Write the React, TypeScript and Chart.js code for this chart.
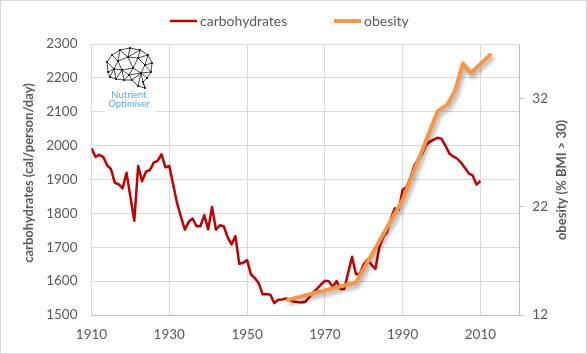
import React, { useEffect, useRef } from "react";
import { Chart, registerables } from "chart.js";

Chart.register(...registerables);

// ---- data ----
const carbStartYear = 1910;
const carbValues = [
  1992, 1967, 1973, 1967, 1942, 1931, 1890, 1886, 1874, 1920,
  1849, 1778, 1940, 1895, 1923, 1928, 1950, 1955, 1974, 1936,
  1940, 1885, 1830, 1790, 1752, 1775, 1785, 1762, 1762, 1795,
  1753, 1819, 1752, 1765, 1762, 1730, 1708, 1733, 1651, 1654,
  1662, 1620, 1609, 1594, 1561, 1562, 1560, 1535, 1545, 1546,
  1549, 1544, 1540, 1538, 1537, 1539, 1553, 1566, 1578, 1590,
  1601, 1600, 1583, 1600, 1577, 1577, 1625, 1672, 1620, 1622,
  1650, 1664, 1648, 1636, 1700, 1730, 1745, 1785, 1815, 1810,
  1870, 1878, 1905, 1940, 1960, 1975, 2002, 2012, 2018, 2023,
  2020, 2000, 1977, 1968, 1962, 1950, 1935, 1918, 1912, 1885,
  1896,
];
const obesityYears = [1960.5, 1978, 1990, 1999, 2001.5, 2003.5, 2005.5, 2007.5, 2012.5];
const obesityValues = [13.4, 15.0, 22.6, 30.8, 31.4, 32.7, 35.2, 34.3, 36.0];

const xTicks = [1910, 1930, 1950, 1970, 1990, 2010];
const leftTicks = [1500, 1600, 1700, 1800, 1900, 2000, 2100, 2200, 2300];
const rightTicks = [12, 22, 32];

const seriesNames = ["carbohydrates", "obesity"];
const leftTitle = "carbohydrates (cal/person/day)";
const rightTitle = "obesity (% BMI > 30)";
const logoText = ["Nutrient", "Optimiser"];

const RED = "#C00000";
const ORANGE = "#F79646";
const TEXT = "#595959";
const FONT = "Lato, 'Open Sans', sans-serif";

// brain logo geometry (decoration)
const brainPts: Record<string, [number, number]> = {
  A: [3, 25], B: [2, 15], C: [7, 8], D: [15, 3], E: [25, 1], F: [35, 3], G: [43, 8],
  H: [47, 16], I: [46, 25], J: [42, 31], K: [38, 35], L: [40, 41], M: [33, 39],
  N: [27, 33], O: [19, 33], P: [11, 32], Q: [5, 30],
  R: [13, 14], S: [23, 10], T: [33, 11], U: [40, 18], V: [17, 23], W: [28, 21],
  X: [36, 26], Y: [9, 22], Z: [24, 28],
};
const brainOutline = "ABCDEFGHIJKLMNOPQ".split("");
const brainEdges = [
  "CR", "DR", "DS", "ES", "FS", "FT", "GT", "GU", "HU", "IU", "IX", "JX", "KX", "MX",
  "NZ", "NX", "OZ", "PV", "QY", "AY", "BY", "YR", "YV", "RS", "RV", "SW", "ST", "TW",
  "TU", "UX", "WX", "VW", "VZ", "WZ", "ZX", "OV", "PY", "KL",
];

const shadowPlugin = {
  id: "lineShadow",
  beforeDatasetDraw(chart: any, args: any) {
    if (args.index === 1) {
      const c = chart.ctx;
      c.save();
      c.shadowColor = "rgba(0,0,0,0.35)";
      c.shadowBlur = 4;
      c.shadowOffsetX = 2;
      c.shadowOffsetY = 3;
    }
  },
  afterDatasetDraw(chart: any, args: any) {
    if (args.index === 1) chart.ctx.restore();
  },
};

const decorPlugin = {
  id: "decor",
  beforeDatasetsDraw(chart: any) {
    const c = chart.ctx;
    const ox = 104, oy = 46;
    const P = (k: string) => [ox + brainPts[k][0], oy + brainPts[k][1]];
    c.save();
    c.fillStyle = "#ffffff";
    c.fillRect(ox - 2, oy + 44, 52, 24);
    c.beginPath();
    brainOutline.forEach((k, i) => {
      const [x, y] = P(k);
      if (i === 0) c.moveTo(x, y); else c.lineTo(x, y);
    });
    c.closePath();
    c.fill();
    c.strokeStyle = "#1a1a1a";
    c.lineWidth = 0.8;
    c.stroke();
    c.beginPath();
    brainEdges.forEach((e) => {
      const [x1, y1] = P(e[0]);
      const [x2, y2] = P(e[1]);
      c.moveTo(x1, y1);
      c.lineTo(x2, y2);
    });
    c.stroke();
    c.fillStyle = "#111";
    Object.keys(brainPts).forEach((k) => {
      const [x, y] = P(k);
      c.beginPath();
      c.arc(x, y, 1.1, 0, Math.PI * 2);
      c.fill();
    });
    c.fillStyle = "#5aa6e0";
    c.font = `9.5px ${FONT}`;
    c.textAlign = "center";
    c.textBaseline = "middle";
    c.fillText(logoText[0], ox + 24, oy + 48);
    c.fillText(logoText[1], ox + 24, oy + 57);
    c.restore();
  },
  afterDraw(chart: any) {
    const c = chart.ctx;
    c.save();
    // legend
    c.font = `14px ${FONT}`;
    c.textBaseline = "middle";
    c.textAlign = "left";
    const items = [
      { x: 169, color: RED, w: 2.5 },
      { x: 333, color: ORANGE, w: 4 },
    ];
    items.forEach((it, i) => {
      c.strokeStyle = it.color;
      c.lineWidth = it.w;
      c.beginPath();
      c.moveTo(it.x, 20);
      c.lineTo(it.x + 27, 20);
      c.stroke();
      c.fillStyle = TEXT;
      c.fillText(seriesNames[i], it.x + 30, 20);
    });
    // axis titles
    c.font = `bold 13px ${FONT}`;
    c.fillStyle = TEXT;
    c.textAlign = "center";
    c.translate(28, 172);
    c.rotate(-Math.PI / 2);
    c.fillText(leftTitle, 0, 0);
    c.restore();
    c.save();
    c.font = `bold 13px ${FONT}`;
    c.fillStyle = TEXT;
    c.textAlign = "center";
    c.textBaseline = "middle";
    c.translate(561, 179);
    c.rotate(-Math.PI / 2);
    c.fillText(rightTitle, 0, 0);
    c.restore();
  },
};

export default function App() {
  const ref = useRef<HTMLCanvasElement | null>(null);

  useEffect(() => {
    document.body.style.margin = "0";
    if (!ref.current) return;
    const tickFont = { family: FONT, size: 13.5 };
    const plain = (v: any) => String(v);
    const chart = new Chart(ref.current, {
      type: "line",
      data: {
        datasets: [
          {
            label: seriesNames[0],
            data: carbValues.map((v, i) => ({ x: carbStartYear + i, y: v })),
            borderColor: RED,
            backgroundColor: RED,
            borderWidth: 2.5,
            pointRadius: 0,
            yAxisID: "y",
            order: 2,
            borderJoinStyle: "round",
          },
          {
            label: seriesNames[1],
            data: obesityYears.map((x, i) => ({ x, y: obesityValues[i] })),
            borderColor: ORANGE,
            backgroundColor: ORANGE,
            borderWidth: 4,
            pointRadius: 0,
            yAxisID: "y2",
            order: 1,
            borderJoinStyle: "round",
            borderCapStyle: "round",
          },
        ],
      },
      options: {
        animation: false,
        responsive: false,
        layout: { padding: { top: 43, left: 0, right: 0, bottom: 0 } },
        plugins: { legend: { display: false }, tooltip: { enabled: false } },
        scales: {
          x: {
            type: "linear",
            min: 1910,
            max: 2020,
            afterBuildTicks: (s: any) => {
              s.ticks = xTicks.map((v) => ({ value: v }));
            },
            afterFit: (s: any) => {
              s.height = 38;
            },
            grid: { color: "#D9D9D9", drawTicks: false },
            border: { color: "#BFBFBF" },
            ticks: {
              color: TEXT,
              font: tickFont,
              padding: 12,
              maxRotation: 0,
              autoSkip: false,
              callback: plain,
            },
          },
          y: {
            position: "left",
            min: 1500,
            max: 2300,
            afterBuildTicks: (s: any) => {
              s.ticks = leftTicks.map((v) => ({ value: v }));
            },
            afterFit: (s: any) => {
              s.width = 90.5;
            },
            grid: { color: "#D9D9D9", drawTicks: false },
            border: { display: false },
            ticks: { color: TEXT, font: tickFont, padding: 14, callback: plain },
          },
          y2: {
            position: "right",
            min: 12,
            max: 37,
            afterBuildTicks: (s: any) => {
              s.ticks = rightTicks.map((v) => ({ value: v }));
            },
            afterFit: (s: any) => {
              s.width = 66.7;
            },
            grid: { drawOnChartArea: false, drawTicks: true, tickLength: 5, color: "#BFBFBF" },
            border: { display: true, color: "#BFBFBF" },
            ticks: { color: TEXT, font: tickFont, padding: 8, callback: plain },
          },
        },
      } as any,
      plugins: [shadowPlugin, decorPlugin],
    });
    return () => chart.destroy();
  }, []);

  return (
    <div
      style={{
        position: "relative",
        width: 587,
        height: 354,
        boxSizing: "border-box",
        border: "1px solid #D9D9D9",
        background: "#fff",
      }}
    >
      <canvas ref={ref} width={585} height={352} style={{ display: "block" }} />
    </div>
  );
}
